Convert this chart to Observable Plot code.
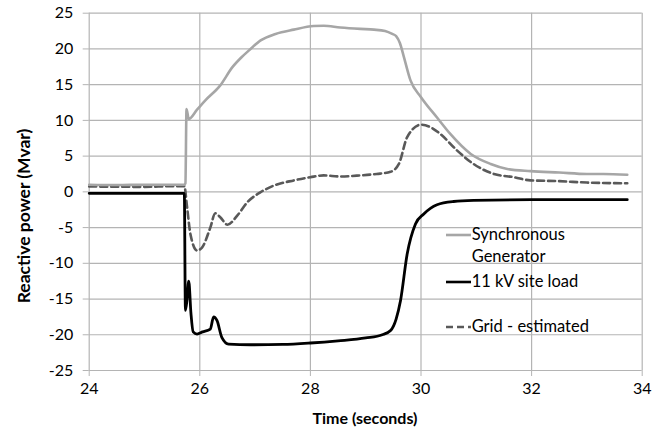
<!DOCTYPE html>
<html>
<head>
<meta charset="utf-8">
<script src="https://cdn.jsdelivr.net/npm/d3@7"></script>
<script src="https://cdn.jsdelivr.net/npm/@observablehq/plot@0.6"></script>
<style>
  body { margin: 0; background: #fff; }
  #wrap { position: relative; width: 662px; height: 429px; font-family: Lato, "Open Sans", sans-serif; color: #000; }
  .title { position: absolute; font-weight: bold; font-size: 16px; white-space: nowrap; }
  .leg { position: absolute; font-size: 16.5px; white-space: nowrap; line-height: 21.7px; }
</style>
</head>
<body>
<div id="wrap"></div>
<script>
// ---- data ----
const seriesNames = ["Synchronous Generator", "11 kV site load", "Grid - estimated"];
const xTicks = [24, 26, 28, 30, 32, 34];
const yTicks = [-25, -20, -15, -10, -5, 0, 5, 10, 15, 20, 25];

const genT = [24.0, 24.5, 25.0, 25.5, 25.72, 25.74, 25.76, 25.80, 25.95, 26.1, 26.37, 26.59, 26.75, 26.89, 27.10, 27.37, 27.70, 28.06, 28.24, 28.54, 28.9, 29.15, 29.35, 29.48, 29.55, 29.62, 29.69, 29.81, 30.0, 30.29, 30.53, 30.9, 31.26, 31.56, 31.98, 32.5, 33.0, 33.3, 33.73];
const genQ = [1.0, 0.95, 1.0, 1.0, 1.0, 1.2, 11.6, 10.2, 11.5, 12.8, 14.9, 17.45, 18.8, 19.8, 21.2, 22.1, 22.7, 23.2, 23.25, 23.0, 22.8, 22.7, 22.5, 22.1, 21.8, 20.8, 18.9, 15.6, 13.25, 10.4, 8.1, 5.3, 3.9, 3.2, 2.9, 2.7, 2.5, 2.5, 2.4];

const loadT = [24.0, 25.72, 25.74, 25.77, 25.80, 25.84, 25.88, 25.95, 26.05, 26.19, 26.25, 26.31, 26.40, 26.52, 26.92, 27.5, 28.0, 28.5, 29.0, 29.3, 29.45, 29.55, 29.63, 29.75, 29.9, 30.05, 30.29, 30.59, 30.95, 32.0, 33.73];
const loadQ = [-0.2, -0.2, -16.6, -15.0, -12.5, -17.0, -19.6, -19.9, -19.6, -19.2, -17.5, -18.0, -20.4, -21.3, -21.4, -21.35, -21.15, -20.85, -20.45, -20.0, -19.4, -17.8, -15.2, -8.7, -4.5, -3.1, -1.8, -1.35, -1.2, -1.1, -1.1];

const gridT = [24.0, 25.0, 25.5, 25.72, 25.77, 25.83, 25.95, 26.04, 26.19, 26.28, 26.37, 26.50, 26.68, 26.86, 27.10, 27.34, 27.70, 28.0, 28.24, 28.54, 28.9, 29.2, 29.45, 29.6, 29.75, 30.0, 30.17, 30.35, 30.65, 30.95, 31.32, 31.68, 31.98, 32.5, 33.0, 33.73];
const gridQ = [0.75, 0.7, 0.8, 0.8, -2.15, -5.9, -8.2, -7.8, -5.0, -3.0, -3.55, -4.6, -3.3, -1.45, -0.05, 0.88, 1.6, 2.05, 2.3, 2.15, 2.3, 2.5, 2.8, 3.9, 7.65, 9.4, 9.05, 8.1, 5.8, 3.9, 2.5, 2.05, 1.6, 1.5, 1.3, 1.2];

// ---- build ----
const zip = (T, Q) => T.map((t, i) => ({t, q: Q[i]}));
const gen = zip(genT, genQ), load = zip(loadT, loadQ), grid = zip(gridT, gridQ);

const gridColor = "#b4b4b4";
const chart = Plot.plot({
  width: 662, height: 429,
  marginLeft: 88.7, marginRight: 20.3, marginTop: 12.7, marginBottom: 59,
  style: {fontFamily: "Lato, 'Open Sans', sans-serif", fontSize: "16px", color: "#000", background: "#fff"},
  x: {domain: [24, 34]},
  y: {domain: [-25, 25]},
  marks: [
    Plot.gridX(xTicks, {stroke: gridColor, strokeOpacity: 1, strokeWidth: 1.2}),
    Plot.gridY(yTicks, {stroke: gridColor, strokeOpacity: 1, strokeWidth: 1.2}),
    Plot.axisY(yTicks, {anchor: "left", tickSize: 6, tickPadding: 10, stroke: gridColor, fill: "#000", label: null, tickFormat: d => d < 0 ? "-" + Math.abs(d) : String(d)}),
    Plot.axisX(xTicks, {anchor: "bottom", tickSize: 6, tickPadding: 6, stroke: gridColor, fill: "#000", label: null}),
    Plot.line(grid, {x: "t", y: "q", stroke: "#595959", strokeWidth: 2.6, strokeDasharray: "7,4", curve: "monotone-x"}),
    Plot.line(gen, {x: "t", y: "q", stroke: "#a6a6a6", strokeWidth: 2.6, curve: "monotone-x"}),
    Plot.line(load, {x: "t", y: "q", stroke: "#000", strokeWidth: 2.8, curve: "monotone-x"})
  ]
});
const wrap = document.getElementById("wrap");
wrap.appendChild(chart);

// axis titles
const yt = document.createElement("div");
yt.className = "title";
yt.textContent = "Reactive power (Mvar)";
yt.style.fontSize = "17.5px";
yt.style.left = "22.7px"; yt.style.top = "216px";
yt.style.transform = "translate(-50%,-50%) rotate(-90deg)";
wrap.appendChild(yt);

const xt = document.createElement("div");
xt.className = "title";
xt.textContent = "Time (seconds)";
xt.style.left = "365px"; xt.style.top = "417px";
xt.style.transform = "translate(-50%,-50%)";
wrap.appendChild(xt);

// legend
const legItems = [
  {lines: ["Synchronous", "Generator"], color: "#a6a6a6", dash: null, top: 224.2},
  {lines: ["11 kV site load"], color: "#000", dash: null, top: 270.9},
  {lines: ["Grid - estimated"], color: "#595959", dash: "7,4", top: 315.9}
];
legItems.forEach((it, i) => {
  const d = document.createElement("div");
  d.className = "leg";
  d.style.left = "446px"; d.style.top = it.top + "px";
  const sw = `<svg width="25" height="10" style="position:absolute;left:0;top:6px"><line x1="0" x2="25" y1="5" y2="5" stroke="${it.color}" stroke-width="2.6" ${it.dash ? `stroke-dasharray="${it.dash}"` : ""}/></svg>`;
  d.innerHTML = sw + `<div style="margin-left:25.7px">${it.lines.join("<br>")}</div>`;
  d.title = seriesNames[i];
  wrap.appendChild(d);
});
</script>
</body>
</html>
